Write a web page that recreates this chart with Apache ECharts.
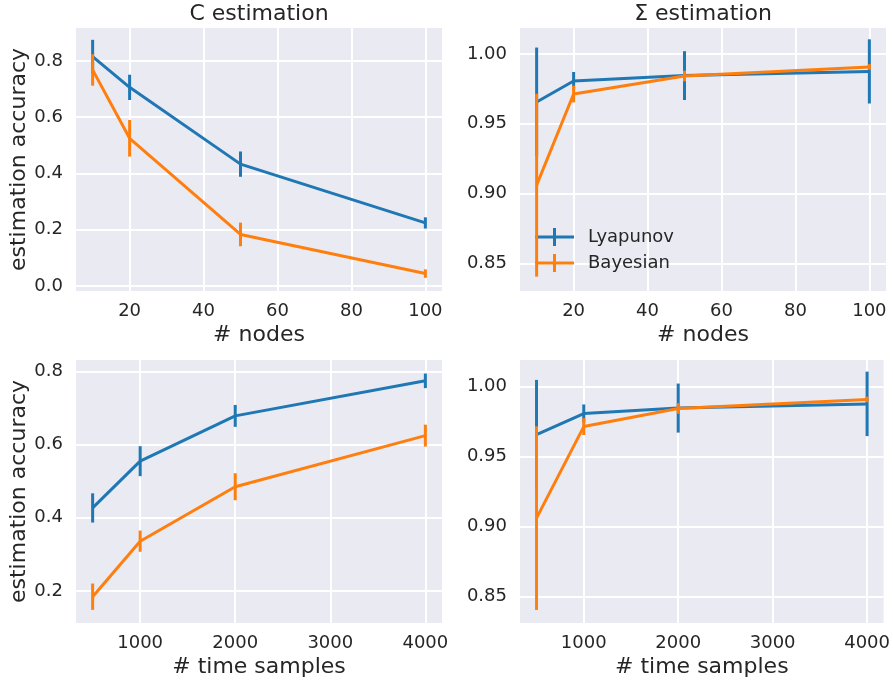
<!DOCTYPE html>
<html><head><meta charset="utf-8">
<script src="https://cdn.jsdelivr.net/npm/echarts@6/dist/echarts.min.js"></script>
<style>html,body{margin:0;padding:0;background:#fff}#c{width:893px;height:684px}</style>
</head><body><div id="c"></div>
<script>
// ---- data ----
const nodes = [10, 20, 50, 100];
const samples = [500, 1000, 2000, 4000];

const cNodesLyap = [0.815, 0.706, 0.433, 0.224];
const cNodesLyapErr = [0.060, 0.045, 0.045, 0.020];
const cNodesBayes = [0.768, 0.525, 0.183, 0.044];
const cNodesBayesErr = [0.056, 0.065, 0.042, 0.015];

const sNodesLyap = [0.9656, 0.9806, 0.9845, 0.9875];
const sNodesLyapErr = [0.039, 0.0065, 0.0175, 0.023];
const sNodesBayes = [0.906, 0.9713, 0.9842, 0.9907];
const sNodesBayesErr = [0.0655, 0.006, 0.0038, 0.002];

const cSamplesLyap = [0.427, 0.555, 0.679, 0.775];
const cSamplesLyapErr = [0.040, 0.041, 0.030, 0.020];
const cSamplesBayes = [0.184, 0.336, 0.485, 0.625];
const cSamplesBayesErr = [0.036, 0.029, 0.037, 0.030];

const sSamplesLyap = [0.9656, 0.9806, 0.9845, 0.9875];
const sSamplesLyapErr = [0.039, 0.0065, 0.0175, 0.023];
const sSamplesBayes = [0.906, 0.9713, 0.9842, 0.9907];
const sSamplesBayesErr = [0.0655, 0.006, 0.0038, 0.002];

const xTicksNodes = [20, 40, 60, 80, 100];
const xTicksSamples = [1000, 2000, 3000, 4000];
const yTicksCTop = [0.0, 0.2, 0.4, 0.6, 0.8];
const yTicksCBottom = [0.2, 0.4, 0.6, 0.8];
const yTicksSigma = [0.85, 0.90, 0.95, 1.00];

const seriesNames = ['Lyapunov', 'Bayesian'];
const titles = ['C estimation', 'Σ estimation'];
const xNames = ['# nodes', '# time samples'];
const yName = 'estimation accuracy';

// ---- style ----
const BLUE = '#1f77b4', ORANGE = '#ff7f0e', TXT = '#262626', BG = '#eaeaf2';
const FONT = 'DejaVu Sans';
const grids = [
  {left: 76, top: 28, width: 366, height: 263},
  {left: 520, top: 28, width: 366, height: 263},
  {left: 76, top: 360, width: 366, height: 263},
  {left: 520, top: 360, width: 366, height: 263}
];

function xAxis(gi, min, max, ticks, name) {
  return {
    type: 'value', gridIndex: gi, min: min, max: max,
    name: name, nameLocation: 'middle', nameGap: 33,
    nameTextStyle: {fontFamily: FONT, fontSize: 22, color: TXT},
    axisLine: {show: false},
    axisTick: {show: false, customValues: ticks},
    axisLabel: {customValues: ticks, fontFamily: FONT, fontSize: 18, color: TXT, margin: 11,
      formatter: v => String(v)},
    splitLine: {show: true, lineStyle: {color: '#ffffff', width: 2}}
  };
}
function yAxis(gi, min, max, ticks, digits, name) {
  return {
    type: 'value', gridIndex: gi, min: min, max: max,
    name: name || '', nameLocation: 'middle', nameGap: 46,
    nameTextStyle: {fontFamily: FONT, fontSize: 22, color: TXT},
    axisLine: {show: false},
    axisTick: {show: false, customValues: ticks},
    axisLabel: {customValues: ticks, fontFamily: FONT, fontSize: 18, color: TXT, margin: 13,
      formatter: v => v.toFixed(digits)},
    splitLine: {show: true, lineStyle: {color: '#ffffff', width: 2}}
  };
}
function lineS(name, color, xs, ys, gi, z) {
  return {
    type: 'line', name: name, xAxisIndex: gi, yAxisIndex: gi,
    data: xs.map((x, i) => [x, ys[i]]),
    symbol: 'none', showSymbol: false,
    lineStyle: {color: color, width: 3}, itemStyle: {color: color},
    z: z, animation: false, silent: true
  };
}
function errS(name, color, xs, ys, es, gi, z) {
  return {
    type: 'custom', name: name, xAxisIndex: gi, yAxisIndex: gi,
    data: xs.map((x, i) => [x, ys[i] - es[i], ys[i] + es[i]]),
    encode: {x: 0, y: [1, 2]},
    itemStyle: {color: color},
    renderItem: function (params, api) {
      const p1 = api.coord([api.value(0), api.value(1)]);
      const p2 = api.coord([api.value(0), api.value(2)]);
      return {type: 'line', shape: {x1: p1[0], y1: p1[1], x2: p2[0], y2: p2[1]},
        style: {stroke: color, lineWidth: 3}};
    },
    z: z, animation: false, silent: true
  };
}

const panels = [
  {x: nodes, l: cNodesLyap, le: cNodesLyapErr, b: cNodesBayes, be: cNodesBayesErr},
  {x: nodes, l: sNodesLyap, le: sNodesLyapErr, b: sNodesBayes, be: sNodesBayesErr},
  {x: samples, l: cSamplesLyap, le: cSamplesLyapErr, b: cSamplesBayes, be: cSamplesBayesErr},
  {x: samples, l: sSamplesLyap, le: sSamplesLyapErr, b: sSamplesBayes, be: sSamplesBayesErr}
];
const series = [];
panels.forEach((p, gi) => {
  series.push(errS(seriesNames[0], BLUE, p.x, p.l, p.le, gi, 3));
  series.push(errS(seriesNames[1], ORANGE, p.x, p.b, p.be, gi, 5));
  series.push(lineS(seriesNames[0], BLUE, p.x, p.l, gi, 2));
  series.push(lineS(seriesNames[1], ORANGE, p.x, p.b, gi, 4));
});

const legendIcon = 'path://M0,7.5H39V10.5H0Z M18,0H21V18H18Z';

const option = {
  backgroundColor: '#ffffff',
  animation: false,
  title: [
    {text: titles[0], left: 259, top: 3, textAlign: 'center', padding: 0,
      textStyle: {fontFamily: FONT, fontSize: 22, fontWeight: 'normal', color: TXT}},
    {text: titles[1], left: 703, top: 3, textAlign: 'center', padding: 0,
      textStyle: {fontFamily: FONT, fontSize: 22, fontWeight: 'normal', color: TXT}}
  ],
  legend: {
    data: [{name: seriesNames[0], icon: legendIcon}, {name: seriesNames[1], icon: legendIcon}],
    orient: 'vertical', left: 535, top: 228, padding: 0,
    itemWidth: 39, itemHeight: 18, itemGap: 8, selectedMode: false,
    textStyle: {fontFamily: FONT, fontSize: 18, color: TXT, padding: [0, 0, 0, 9], lineHeight: 18}
  },
  grid: grids.map(g => Object.assign({show: true, backgroundColor: BG, borderWidth: 0, containLabel: false}, g)),
  xAxis: [
    xAxis(0, 5.5, 104.5, xTicksNodes, xNames[0]),
    xAxis(1, 5.5, 104.5, xTicksNodes, xNames[0]),
    xAxis(2, 325, 4175, xTicksSamples, xNames[1]),
    xAxis(3, 325, 4175, xTicksSamples, xNames[1])
  ],
  yAxis: [
    yAxis(0, -0.018, 0.917, yTicksCTop, 1, yName),
    yAxis(1, 0.8302, 1.0186, yTicksSigma, 2),
    yAxis(2, 0.112, 0.832, yTicksCBottom, 1, yName),
    yAxis(3, 0.8312, 1.0188, yTicksSigma, 2)
  ],
  series: series
};
const chart = echarts.init(document.getElementById('c'), null, {renderer: 'canvas'});
chart.setOption(option);
</script>
</body></html>
